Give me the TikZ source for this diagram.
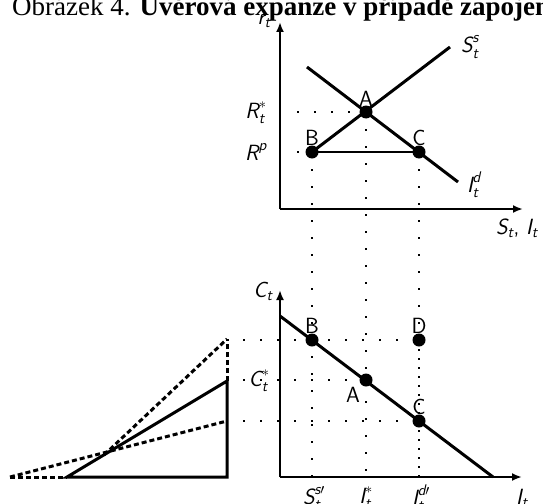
\documentclass[tikz,border=0pt]{standalone}
\usepackage{amsmath}
\usepackage{fontspec}
\newfontfamily\titlefont{Liberation Serif}
\usetikzlibrary{arrows.meta}
\newcommand\mv[1]{\text{\sffamily\itshape #1}}
\tikzset{
  axis/.style={line width=2pt,-{Latex[length=10pt,width=8pt]}},
  thickline/.style={line width=3pt},
  thinline/.style={line width=1.5pt},
  dotline/.style={line width=1.7pt,dash pattern=on 1.7pt off 15.3pt},
  densedot/.style={line width=1.7pt,dash pattern=on 1.7pt off 7.3pt},
  dashline/.style={line width=3pt,dash pattern=on 5pt off 3pt},
  pt/.style={circle,fill=black,inner sep=0pt,minimum size=13pt},
  lab/.style={font=\sffamily\fontsize{22}{26}\selectfont,inner sep=0pt},
}
\begin{document}
\begin{tikzpicture}[x=1pt,y=-1pt]
\useasboundingbox (0,0) rectangle (543,503);
\clip (0,0) rectangle (543,503);
% title
\node[anchor=base west,inner sep=0pt,font=\titlefont\fontsize{27}{30}\selectfont] (title) at (12,16) {Obrázek 4. \textbf{Úvěrová expanze v případě zapojení}};
% ---------- top graph ----------
\coordinate (O1) at (280,209);
\coordinate (Y1) at (280,22);
\coordinate (X1) at (523,209);
\coordinate (Ss0) at (312,152);
\coordinate (Ss1) at (450,47);
\coordinate (Id0) at (307,67);
\coordinate (Id1) at (458,182);
% dotted guides
\draw[dotline] (297,112) -- (366,112);
\draw[dotline] (297,152) -- (312,152);
\draw[dotline] (312,152) -- (312,477);
\draw[dotline] (366,112) -- (366,477);
\draw[dotline] (419,152) -- (419,340);
\draw[densedot] (419,340) -- (419,477);
% axes
\draw[axis] (O1) -- (Y1);
\draw[axis] (O1) -- (X1);
% curves
\draw[thickline] (Ss0) -- (Ss1);
\draw[thickline] (Id0) -- (Id1);
\node[pt] (A1) at (366,112) {};
\node[pt] (B1) at (312,152) {};
\node[pt] (C1) at (419,152) {};
\draw[thinline] (B1.center) -- (C1.center);
% labels
\node[lab] (lA1) at (366,99) {A};
\node[lab] (lB1) at (312,138) {B};
\node[lab] (lC1) at (419,138) {C};
\node[lab] (lrt) at (264,21) {$\mv{r}_{\mv{t}}$};
\node[lab] (lSs) at (470,47) {$\mv{S}^{\mv{s}}_{\mv{t}}$};
\node[lab] (lId) at (474,185) {$\mv{I}^{\mv{d}}_{\mv{t}}$};
\node[lab] (lSI) at (517,228) {$\mv{S}_{\mv{t}}$, $\mv{I}_{\mv{t}}$};
\node[lab] (lRs) at (256,113) {$\mv{R}^{*}_{\mv{t}}$};
\node[lab] (lRp) at (256,152) {$\mv{R}^{\mv{p}}$};
% ---------- bottom graph ----------
\coordinate (O2) at (280,477);
\coordinate (Y2) at (280,290);
\coordinate (X2) at (522,477);
\coordinate (L0) at (280,316);
\coordinate (L1) at (493,477);
\draw[dotline] (243,340) -- (419,340);
\draw[dotline] (243,380) -- (366,380);
\draw[dotline] (243,421) -- (419,421);
\draw[axis] (O2) -- (Y2);
\draw[axis] (O2) -- (X2);
\draw[thickline] (L0) -- (L1);
\node[pt] (B2) at (312,340) {};
\node[pt] (A2) at (366,380) {};
\node[pt] (C2) at (419,421) {};
\node[pt] (D2) at (419,340) {};
\node[lab] (lB2) at (312,326) {B};
\node[lab] (lD2) at (419,326) {D};
\node[lab] (lA2) at (353,395) {A};
\node[lab] (lC2) at (419,407) {C};
\node[lab] (lCt) at (263,291) {$\mv{C}_{\mv{t}}$};
\node[lab] (lCs) at (259,381) {$\mv{C}^{*}_{\mv{t}}$};
\node[lab] (lS2) at (314,498) {$\mv{S}^{\mv{s}\prime}_{\mv{t}}$};
\node[lab] (lI2) at (366,498) {$\mv{I}^{*}_{\mv{t}}$};
\node[lab] (lId2) at (421,498) {$\mv{I}^{\mv{d}\prime}_{\mv{t}}$};
\node[lab] (lIt) at (522,498) {$\mv{I}_{\mv{t}}$};
% ---------- left triangle ----------
\coordinate (T0) at (67,477);
\coordinate (T1) at (227,477);
\coordinate (T2) at (227,381);
\coordinate (T3) at (227,339);
\coordinate (T4) at (227,421);
\coordinate (E0) at (10,477);
\coordinate (U0) at (104,455);
\draw[thickline] (T2) -- (T1) -- (T0) -- cycle;
\draw[dashline] (T2) -- (T3);
\draw[dashline] (E0) -- (T0);
\draw[dashline] (E0) -- (T4);
\draw[dashline] (U0) -- (T3);
\end{tikzpicture}
\end{document}
